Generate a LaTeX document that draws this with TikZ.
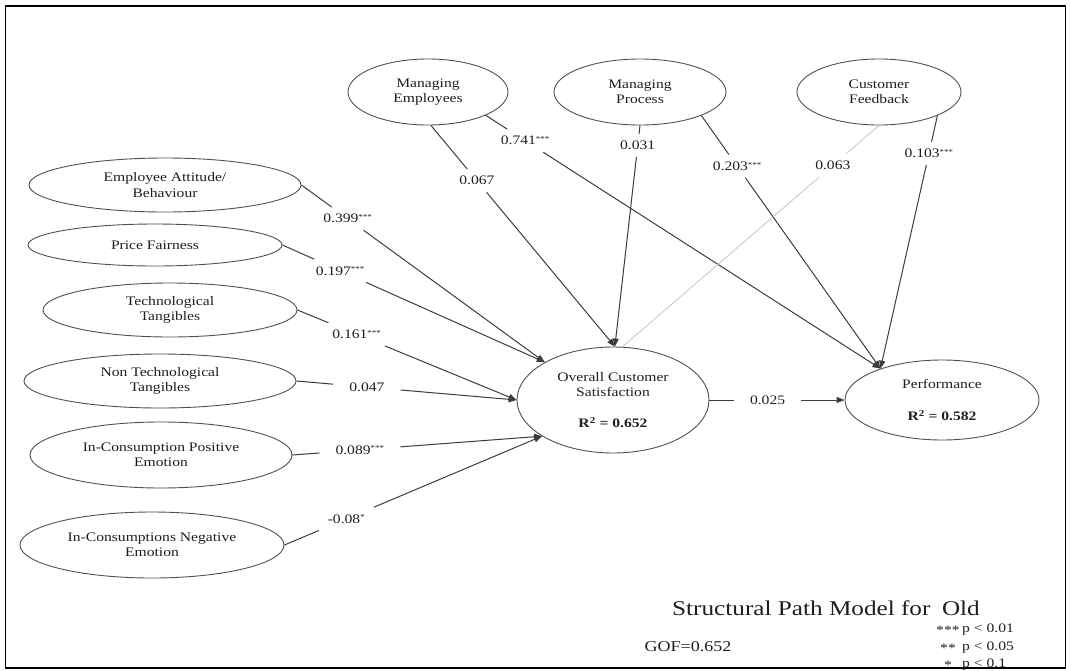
\documentclass[tikz,border=0pt]{standalone}
\usepackage{fontspec}
\setmainfont{Liberation Serif}[FakeStretch=1.2]
\usetikzlibrary{shapes.geometric,arrows.meta,calc}
\definecolor{ink}{HTML}{1E1E1E}
\definecolor{edge}{HTML}{3C3C3C}
\definecolor{rim}{HTML}{505050}
\definecolor{faint}{HTML}{C4C4C4}
% small raised significance stars after a coefficient
\newcommand{\starmark}[1]{\raisebox{3.2pt}{\fontsize{7.5}{7.5}\selectfont #1}}
\begin{document}
\begin{tikzpicture}[x=1pt,y=-1pt,
  construct/.style={ellipse,draw=rim,line width=0.9pt,inner sep=0pt,align=center,
                    text=ink,font=\fontsize{13}{15.5}\selectfont},
  coef/.style={inner xsep=16pt,inner ysep=7pt,text=ink,font=\fontsize{13}{15}\selectfont},
  link/.style={draw=edge,line width=1pt},
  arr/.style={link,-{Triangle[length=8pt,width=6pt]}},
  weak/.style={draw=faint,line width=0.8pt},
  legendtext/.style={anchor=west,inner sep=0pt,text=ink,font=\fontsize{13}{15}\selectfont},
]
\useasboundingbox (0,0) rectangle (1071,670);
\draw[line width=1.8pt,black] (5.5,6) rectangle (1065.5,668);

% constructs along the top
\node[construct,minimum width=160pt,minimum height=66pt] (ME) at (428,92) {Managing\\Employees};
\node[construct,minimum width=172pt,minimum height=66pt] (MP) at (640,92) {Managing\\Process};
\node[construct,minimum width=164pt,minimum height=66pt] (CF) at (879,92) {Customer\\Feedback};

% constructs on the left
\node[construct,minimum width=272pt,minimum height=54pt] (EA)  at (165,185) {Employee Attitude/\\Behaviour};
\node[construct,minimum width=254pt,minimum height=42pt] (PF)  at (155,245) {Price Fairness};
\node[construct,minimum width=254pt,minimum height=54pt] (TT)  at (170,310) {Technological\\Tangibles};
\node[construct,minimum width=272pt,minimum height=54pt] (NTT) at (160,381) {Non Technological\\Tangibles};
\node[construct,minimum width=262pt,minimum height=66pt] (ICP) at (161,455) {In-Consumption Positive\\Emotion};
\node[construct,minimum width=264pt,minimum height=66pt] (ICN) at (152,545) {In-Consumptions Negative\\Emotion};

% outcomes
\node[construct,minimum width=192pt,minimum height=106pt] (OCS) at (613,400)
  {Overall Customer\\Satisfaction\\[15.5pt]\textbf{R\textsuperscript{2} = 0.652}};
\node[construct,minimum width=194pt,minimum height=80pt] (PER) at (942,400)
  {Performance\\[17pt]\textbf{R\textsuperscript{2} = 0.582}};

% path coefficients, each placed on its own path
\node[coef] (c741) at ($(ME.-22)!0.10!(PER.153)$) {0.741\starmark{***}};
\node[coef] (c067) at ($(ME.-85)!0.25!(OCS.88)$) {0.067};
\node[coef] (c031) at ($(MP.south)!0.09!(OCS.88)$) {0.031};
\node[coef] (c203) at ($(MP.-21)!0.20!(PER.153)$) {0.203\starmark{***}};
\node[coef] (c063) at ($(CF.south)!0.18!(OCS.80)$) {0.063};
\node[coef] (c103) at ($(CF.-22)!0.15!(PER.153)$) {0.103\starmark{***}};
\node[coef] (c399) at ($(EA.east)!0.19!(OCS.151)$) {0.399\starmark{***}};
\node[coef] (c197) at ($(PF.east)!0.22!(OCS.151)$) {0.197\starmark{***}};
\node[coef] (c161) at ($(TT.east)!0.27!(OCS.180)$) {0.161\starmark{***}};
\node[coef] (c047) at ($(NTT.east)!0.32!(OCS.180)$) {0.047};
\node[coef] (c089) at ($(ICP.east)!0.27!(OCS.207)$) {0.089\starmark{***}};
\node[coef] (c008) at ($(ICN.east)!0.24!(OCS.207)$) {-0.08\starmark{*}};
\node[coef] (c025) at ($(OCS.east)!0.43!(PER.west)$) {0.025};

% paths
\draw[link] (ME.-22) -- (c741);   \draw[arr] (c741) -- (PER.153);
\draw[link] (ME.-85) -- (c067);   \draw[arr] (c067) -- (OCS.88);
\draw[link] (MP.south) -- (c031); \draw[arr] (c031) -- (OCS.88);
\draw[link] (MP.-21) -- (c203);   \draw[arr] (c203) -- (PER.153);
\draw[weak] (CF.south) -- (c063); \draw[weak] (c063) -- (OCS.80);
\draw[link] (CF.-22) -- (c103);   \draw[arr] (c103) -- (PER.153);
\draw[link] (EA.east) -- (c399);  \draw[arr] (c399) -- (OCS.151);
\draw[link] (PF.east) -- (c197);  \draw[arr] (c197) -- (OCS.151);
\draw[link] (TT.east) -- (c161);  \draw[arr] (c161) -- (OCS.180);
\draw[link] (NTT.east) -- (c047); \draw[arr] (c047) -- (OCS.180);
\draw[link] (ICP.east) -- (c089); \draw[arr] (c089) -- (OCS.207);
\draw[link] (ICN.east) -- (c008); \draw[arr] (c008) -- (OCS.207);
\draw[link] (OCS.east) -- (c025); \draw[arr] (c025) -- (PER.west);

% caption and legend
\node[text=ink,font=\fontsize{21}{24}\selectfont] (title) at (826,608) {Structural Path Model for\hspace{0.55em}Old};
\node[text=ink,font=\fontsize{15}{17}\selectfont] (gof) at (688,647) {GOF=0.652};
\node[legendtext] (s3) at (936,630) {\raisebox{-2pt}{***}};
\node[legendtext] (p3) at (962,630) {p < 0.01};
\node[legendtext] (s2) at (940,648) {\raisebox{-2pt}{**}};
\node[legendtext] (p2) at (962,648) {p < 0.05};
\node[legendtext] (s1) at (944,665) {\raisebox{-2pt}{*}};
\node[legendtext] (p1) at (962,665) {p < 0.1};
\end{tikzpicture}
\end{document}
